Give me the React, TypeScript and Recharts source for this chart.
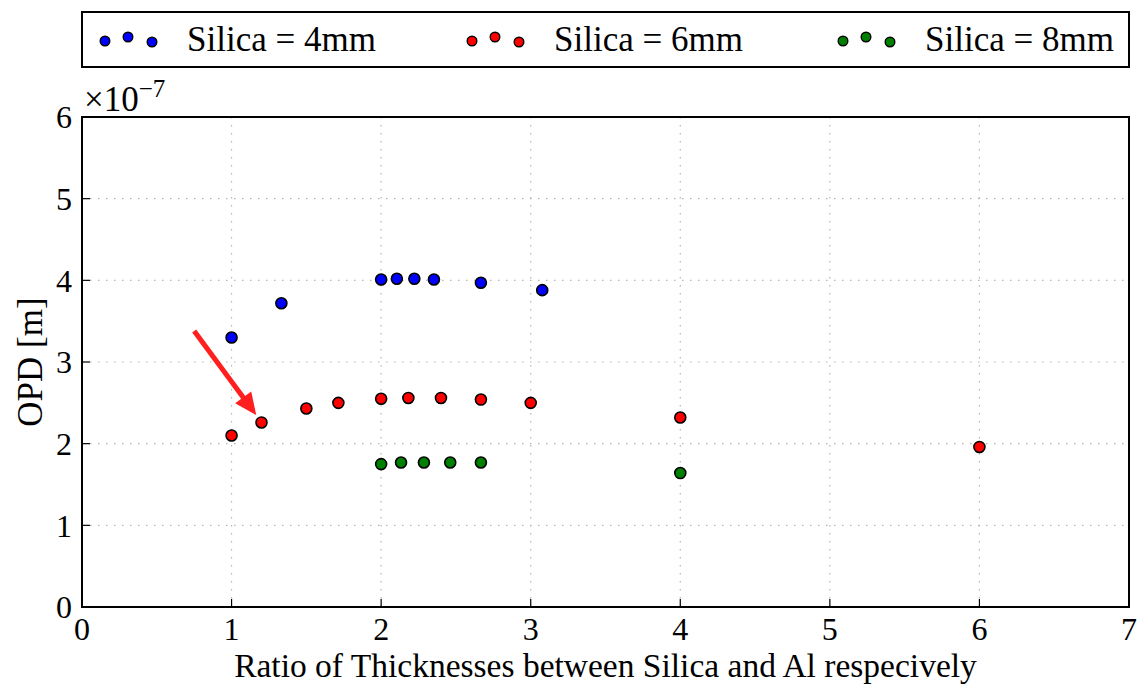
import { CartesianGrid, Label, ReferenceArea, ReferenceLine, Scatter, ScatterChart, XAxis, YAxis } from 'recharts';

const FONT = '"Liberation Serif", "Times New Roman", serif';
const BLUE = '#0000ff';
const RED = '#ff0000';
const GREEN = '#008000';
const ARROW = '#ff1f1f';

// OPD values are in units of 1e-7 m (axis multiplier shown top-left)
const ratio4mm = [1.0, 1.333, 2.0, 2.105, 2.222, 2.353, 2.667, 3.077];
const opd4mm = [3.3, 3.72, 4.01, 4.02, 4.02, 4.01, 3.97, 3.88];

const ratio6mm = [1.0, 1.2, 1.5, 1.714, 2.0, 2.182, 2.4, 2.667, 3.0, 4.0, 6.0];
const opd6mm = [2.1, 2.26, 2.43, 2.5, 2.55, 2.56, 2.56, 2.54, 2.5, 2.32, 1.96];

const ratio8mm = [2.0, 2.133, 2.286, 2.462, 2.667, 4.0];
const opd8mm = [1.75, 1.77, 1.77, 1.77, 1.77, 1.64];

const xTicks = [0, 1, 2, 3, 4, 5, 6, 7];
const yTicks = [0, 1, 2, 3, 4, 5, 6];

// arrow pointing at the 1.2 ratio point
const arrowFrom = { x: 0.75, y: 3.38 };
const arrowTo = { x: 1.165, y: 2.35 };

const series = [
  { name: 'Silica = 4mm', color: BLUE, xs: ratio4mm, ys: opd4mm },
  { name: 'Silica = 6mm', color: RED, xs: ratio6mm, ys: opd6mm },
  { name: 'Silica = 8mm', color: GREEN, xs: ratio8mm, ys: opd8mm },
];

const toPoints = (xs: number[], ys: number[]) => xs.map((x, i) => ({ ratio: x, opd: ys[i] }));

const FS = 35;
const tickStyle = { fill: '#000', fontSize: 32, fontFamily: FONT };
const frameLine = { stroke: '#000', strokeWidth: 2 };
const tickLine = { stroke: '#000', strokeWidth: 1.2 };

function Arrow(props: any) {
  const { x1, y1, x2, y2 } = props;
  const dx = x2 - x1;
  const dy = y2 - y1;
  const len = Math.hypot(dx, dy) || 1;
  const ux = dx / len;
  const uy = dy / len;
  const head = 22;
  const hw = 10;
  const bx = x2 - ux * head;
  const by = y2 - uy * head;
  return (
    <g>
      <line x1={x1} y1={y1} x2={bx + ux * 2} y2={by + uy * 2} stroke={ARROW} strokeWidth={5} />
      <polygon
        points={`${x2},${y2} ${bx - uy * hw},${by + ux * hw} ${bx + uy * hw},${by - ux * hw}`}
        fill={ARROW}
      />
    </g>
  );
}

function LegendBox() {
  const starts = [105, 472, 843];
  return (
    <svg width={1138} height={72} style={{ position: 'absolute', left: 0, top: 0 }}>
      <rect x={82} y={12} width={1047} height={55} fill="#fff" stroke="#000" strokeWidth={2} />
      {series.map((s, i) => (
        <g key={s.name}>
          {[
            [0, 41],
            [23, 37],
            [47, 42],
          ].map(([ox, y], j) => (
            <circle key={j} cx={starts[i] + ox} cy={y} r={4.8} fill={s.color} stroke="#000" strokeWidth={1.4} />
          ))}
          <text x={starts[i] + 82} y={51} fontSize={FS} fontFamily={FONT} fill="#000">
            {s.name}
          </text>
        </g>
      ))}
    </svg>
  );
}

export default function App() {
  return (
    <div style={{ position: 'absolute', left: 0, top: 0, width: 1138, height: 685, background: '#fff', fontFamily: FONT }}>
      <LegendBox />
      <div style={{ position: 'absolute', left: 0, top: 0 }}>
        <ScatterChart width={1138} height={685} margin={{ top: 117, right: 9, bottom: 0, left: 0 }}>
          <CartesianGrid stroke="#b5b5b5" strokeDasharray="1.5 6.5" strokeWidth={1.2} />
          <XAxis
            type="number"
            dataKey="ratio"
            domain={[0, 7]}
            ticks={xTicks}
            height={78}
            tickSize={-8}
            tickMargin={18}
            tick={tickStyle}
            axisLine={frameLine}
            tickLine={tickLine}
          >
            <Label
              value="Ratio of Thicknesses between Silica and Al respecively"
              position="insideBottom"
              offset={8}
              style={{ fill: '#000', fontSize: 33.5, fontFamily: FONT }}
            />
          </XAxis>
          <XAxis
            xAxisId="top"
            orientation="top"
            type="number"
            domain={[0, 7]}
            ticks={xTicks}
            height={0}
            tickSize={-8}
            tickFormatter={() => ''}
            axisLine={frameLine}
            tickLine={tickLine}
          />
          <YAxis
            type="number"
            dataKey="opd"
            domain={[0, 6]}
            ticks={yTicks}
            width={82}
            tickSize={-8}
            tickMargin={18}
            tick={tickStyle}
            axisLine={frameLine}
            tickLine={tickLine}
          >
            <Label
              content={(p: any) => {
                const vb = p.viewBox;
                const cy = vb.y + vb.height / 2;
                return (
                  <text
                    x={30}
                    y={cy}
                    transform={`rotate(-90, 30, ${cy})`}
                    textAnchor="middle"
                    dominantBaseline="central"
                    fontSize={FS}
                    fontFamily={FONT}
                    fill="#000"
                  >
                    OPD [m]
                  </text>
                );
              }}
            />
            <Label
              content={(p: any) => {
                const vb = p.viewBox;
                return (
                  <text x={vb.x + vb.width + 2} y={vb.y - 6} fontSize={FS} fontFamily={FONT} fill="#000">
                    ×10
                    <tspan fontSize={25} dy={-14}>
                      −7
                    </tspan>
                  </text>
                );
              }}
            />
          </YAxis>
          <YAxis
            yAxisId="right"
            orientation="right"
            type="number"
            domain={[0, 6]}
            ticks={yTicks}
            width={0}
            tickSize={-8}
            tickFormatter={() => ''}
            axisLine={frameLine}
            tickLine={tickLine}
          />
          <ReferenceArea x1={0} x2={7} y1={0} y2={6} fill="none" fillOpacity={0} stroke="#000" strokeWidth={2} />
          {series.map((s) => (
            <Scatter
              key={s.name}
              name={s.name}
              data={toPoints(s.xs, s.ys)}
              isAnimationActive={false}
              shape={(p: any) => (
                <circle cx={p.cx} cy={p.cy} r={5.5} fill={s.color} stroke="#000" strokeWidth={1.6} />
              )}
            />
          ))}
          <ReferenceLine
            segment={[arrowFrom, arrowTo]}
            ifOverflow="visible"
            shape={(p: any) => <Arrow {...p} />}
          />
        </ScatterChart>
      </div>
    </div>
  );
}
